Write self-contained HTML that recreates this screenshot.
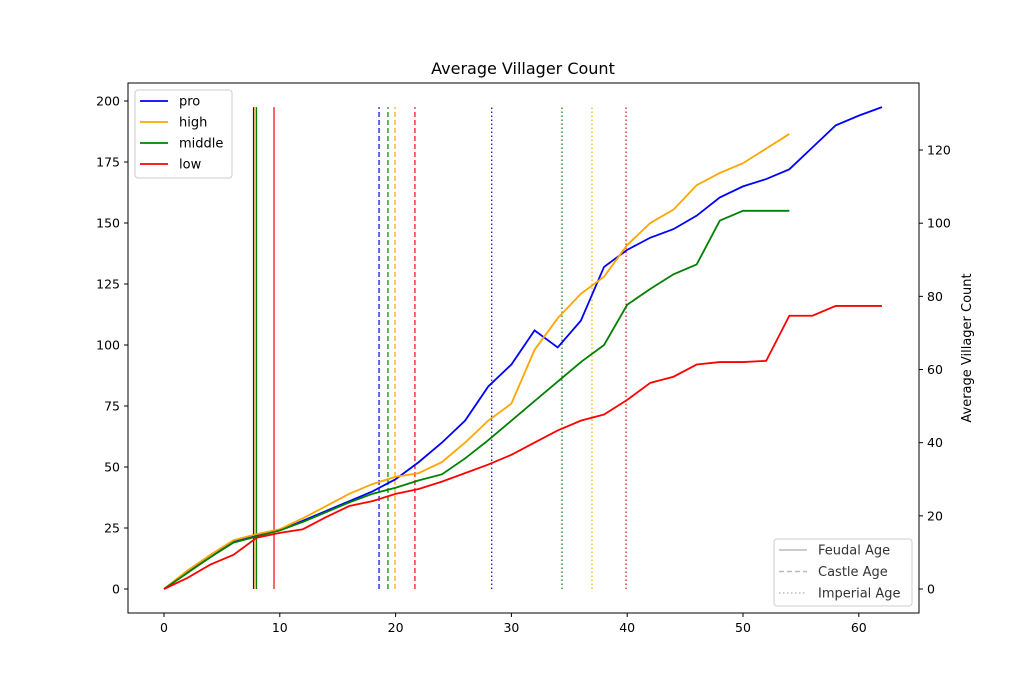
<!DOCTYPE html>
<html><head><meta charset="utf-8"><style>
body{margin:0;background:#fff}
svg{font-family:"DejaVu Sans","Liberation Sans",sans-serif}
</style></head><body>
<svg id="chart" width="1021" height="689" viewBox="0 0 1021 689" xmlns="http://www.w3.org/2000/svg">
<rect width="1021" height="689" fill="#fff"/>
<text x="523" y="74" font-size="16" text-anchor="middle">Average Villager Count</text>
<g id="grid"></g>
<g id="plot"></g>
<rect x="128" y="83" width="791" height="530" fill="none" stroke="#000" stroke-width="1"/>
<g id="axes" font-size="12.5"></g>
<text transform="translate(971,348) rotate(-90)" font-size="13" text-anchor="middle">Average Villager Count</text>
<g>
<rect x="135" y="90" width="97" height="88" fill="#fff" stroke="#ccc" rx="3"/>
</g>
<g>
<rect x="774" y="539" width="138" height="67" fill="#fff" stroke="#ccc" rx="3"/>
</g>
</svg>
<script>
const xs = [0,2,4,6,8,10,12,14,16,18,20,22,24,26,28,30,32,34,36,38,40,42,44,46,48,50,52,54,56,58,60,62];
const seriesNames = ["pro","high","middle","low"];
const seriesColors = ["blue","orange","green","red"];
const proVals = [0,7,13,19.5,22,24,28,32,36,40,45,52,60,69,83,92,106,99,110,132,139,144,147.5,153,160.5,165,168,172,181,190,194,197.5];
const highVals = [0,7.5,14,20,22.5,24.5,29,34,39,43,46,47.5,52,60,69,76,98,111,121,128,141,150,155.5,165.5,170.5,174.5,180.5,186.5];
const middleVals = [0,6.5,13,19,21.5,24,27.5,31.5,35.5,39,41.5,44.5,47,53.5,61,69,77,85,93,100,116.5,123,129,133,151,155,155,155];
const lowVals = [0,4.5,10,14,21,23,24.5,29.5,34,36,39,41,44,47.5,51,55,60,65,69,71.5,77.5,84.5,87,92,93,93,93.5,112,112,116,116,116];
const feudalTimes = [7.73,7.86,7.99,9.5];
const castleTimes = [18.57,19.95,19.34,21.67];
const imperialTimes = [28.3,36.96,34.37,39.9];
const xTicks = [0,10,20,30,40,50,60];
const yTicks = [0,25,50,75,100,125,150,175,200];
const y2Ticks = [0,20,40,60,80,100,120];

const NS="http://www.w3.org/2000/svg";
const X = v => 164 + v*11.58;
const Y = v => 589 - v*2.44;
const Y2 = v => 589 - v*3.658;
function mk(tag, attrs, parent){const e=document.createElementNS(NS,tag);for(const k in attrs)e.setAttribute(k,attrs[k]);parent.appendChild(e);return e;}
const plot=document.getElementById('plot'), axes=document.getElementById('axes');
const allVals=[proVals,highVals,middleVals,lowVals];
const vmax=Math.max(...proVals,...highVals,...middleVals,...lowVals);
const dashes=["none","5,3","1.5,2.5"];
[feudalTimes,castleTimes,imperialTimes].forEach((arr,k)=>{
  arr.forEach((t,i)=>{
    const l=mk('line',{x1:X(t),x2:X(t),y1:Y(0),y2:Y(vmax),stroke:seriesColors[i],'stroke-width':1.2,'stroke-dasharray':dashes[k]},plot);
    
    
  });
});
allVals.forEach((vals,i)=>{
  const pts=vals.map((v,j)=>X(xs[j])+','+Y(v)).join(' ');
  const p=mk('polyline',{points:pts,fill:'none',stroke:seriesColors[i],'stroke-width':1.8},plot);
  
  
});
xTicks.forEach(t=>{
  mk('line',{x1:X(t),x2:X(t),y1:613,y2:617,stroke:'#000'},axes);
  const tx=mk('text',{x:X(t),y:632,'text-anchor':'middle'},axes);tx.textContent=t;
  
  
});
yTicks.forEach(t=>{
  mk('line',{x1:124,x2:128,y1:Y(t),y2:Y(t),stroke:'#000'},axes);
  const tx=mk('text',{x:120,y:Y(t)+4.5,'text-anchor':'end'},axes);tx.textContent=t;
  
  
});
y2Ticks.forEach(t=>{
  mk('line',{x1:919,x2:923,y1:Y2(t),y2:Y2(t),stroke:'#000'},axes);
  const tx=mk('text',{x:927,y:Y2(t)+4.5,'text-anchor':'start'},axes);tx.textContent=t;
  
  
});
const svg=document.getElementById('chart');
seriesNames.forEach((n,i)=>{
  const y=101+i*21;
  const g=mk('g',{},svg);
  
  
  mk('line',{x1:140,x2:168,y1:y,y2:y,stroke:seriesColors[i],'stroke-width':1.8},g);
  const t=mk('text',{x:179,y:y+4.5,'font-size':13},g);t.textContent=n;
});
["Feudal Age","Castle Age","Imperial Age"].forEach((n,k)=>{
  const y=550+k*21.5;
  const g=mk('g',{},svg);
  
  
  mk('line',{x1:779,x2:807,y1:y,y2:y,stroke:'#bbb','stroke-width':1.5,'stroke-dasharray':dashes[k]},g);
  const t=mk('text',{x:818,y:y+4.5,'font-size':13,fill:'#333'},g);t.textContent=n;
});
</script>
</body></html>
